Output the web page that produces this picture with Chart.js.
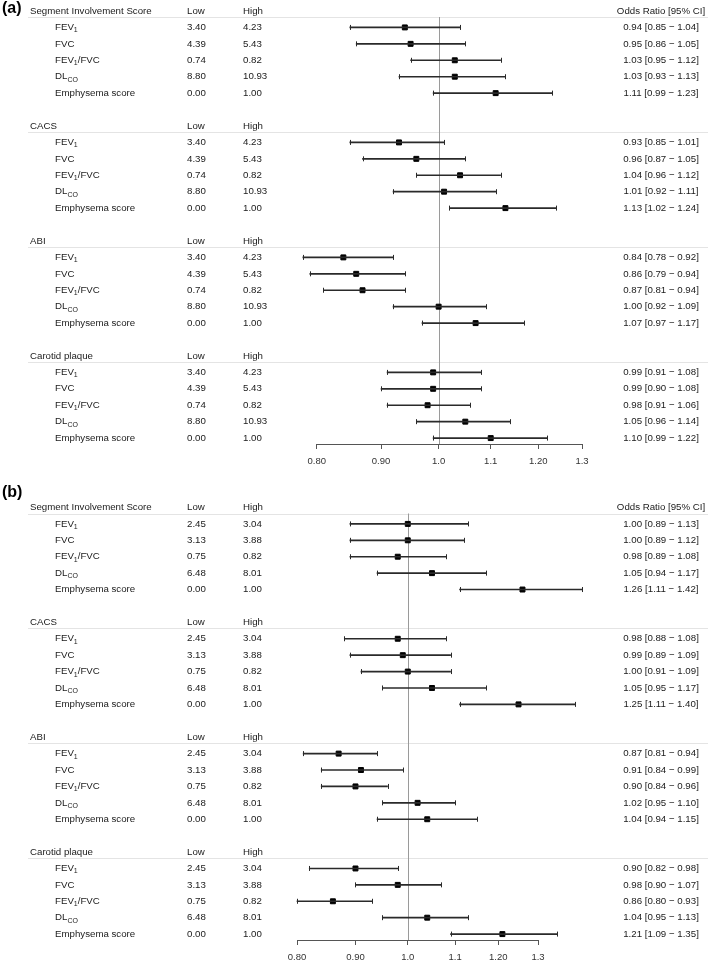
<!DOCTYPE html>
<html><head><meta charset="utf-8">
<script src="https://cdn.jsdelivr.net/npm/chart.js@4/dist/chart.umd.min.js"></script>
<style>
html,body{margin:0;padding:0;background:#fff;overflow:hidden;width:708px;height:963px;position:relative;}
canvas{position:absolute;left:0;}
#ca{top:0}
#cb{top:479px}
</style></head><body>
<canvas id="ca" width="708" height="479"></canvas>
<canvas id="cb" width="708" height="495"></canvas>
<script>
const groups = ['Segment Involvement Score', 'CACS', 'ABI', 'Carotid plaque'];
const items = ['FEV_1', 'FVC', 'FEV_1/FVC', 'DL_CO', 'Emphysema score'];
const lowA = ['3.40', '4.39', '0.74', '8.80', '0.00'];
const highA = ['4.23', '5.43', '0.82', '10.93', '1.00'];
const lowB = ['2.45', '3.13', '0.75', '6.48', '0.00'];
const highB = ['3.04', '3.88', '0.82', '8.01', '1.00'];

const orA = [0.94, 0.95, 1.03, 1.03, 1.11, 0.93, 0.96, 1.04, 1.01, 1.13, 0.84, 0.86, 0.87, 1.00, 1.07, 0.99, 0.99, 0.98, 1.05, 1.10];
const loA = [0.85, 0.86, 0.95, 0.93, 0.99, 0.85, 0.87, 0.96, 0.92, 1.02, 0.78, 0.79, 0.81, 0.92, 0.97, 0.91, 0.90, 0.91, 0.96, 0.99];
const hiA = [1.04, 1.05, 1.12, 1.13, 1.23, 1.01, 1.05, 1.12, 1.11, 1.24, 0.92, 0.94, 0.94, 1.09, 1.17, 1.08, 1.08, 1.06, 1.14, 1.22];

const orB = [1.00, 1.00, 0.98, 1.05, 1.26, 0.98, 0.99, 1.00, 1.05, 1.25, 0.87, 0.91, 0.90, 1.02, 1.04, 0.90, 0.98, 0.86, 1.04, 1.21];
const loB = [0.89, 0.89, 0.89, 0.94, 1.11, 0.88, 0.89, 0.91, 0.95, 1.11, 0.81, 0.84, 0.84, 0.95, 0.94, 0.82, 0.90, 0.80, 0.95, 1.09];
const hiB = [1.13, 1.12, 1.08, 1.17, 1.42, 1.08, 1.09, 1.09, 1.17, 1.40, 0.94, 0.99, 0.96, 1.10, 1.15, 0.98, 1.07, 0.93, 1.13, 1.35];

const tickVals = [0.8, 0.9, 1.0, 1.1, 1.2, 1.3];
const tickLabels = ['0.80', '0.90', '1.0', '1.1', '1.20', '1.3'];

const FONT = '"Liberation Sans", Arial, Helvetica, sans-serif';
const TXT = '#1a1a1a';

function rowOf(i) { const g = Math.floor(i / 5), k = i % 5; return 7 * g + k + 1; }

function drawSubLabel(ctx, label, x, y) {
  const parts = label.split(/(_[A-Za-z0-9]+)/);
  let cx = x;
  for (const p of parts) {
    if (!p) continue;
    if (p[0] === '_') {
      ctx.font = '7px ' + FONT;
      ctx.fillText(p.slice(1), cx, y + 3);
      cx += ctx.measureText(p.slice(1)).width;
    } else {
      ctx.font = '9.7px ' + FONT;
      ctx.fillText(p, cx, y);
      cx += ctx.measureText(p).width;
    }
  }
}

function fmt(v) { return v.toFixed(2); }

function makePanel(id, panelLabel, labelY, low, high, or, lo, hi, pad) {
  const rows = or.map((_, i) => rowOf(i));
  const panelPlugin = {
    id: 'panel' + id,
    beforeDatasetsDraw(chart) {
      const { ctx, scales: { x, y }, chartArea } = chart;
      ctx.save();
      ctx.strokeStyle = '#e4e4e4';
      ctx.lineWidth = 1;
      for (let g = 0; g < groups.length; g++) {
        const yy = Math.round(y.getPixelForValue(7 * g) + 6) + 0.5;
        ctx.beginPath(); ctx.moveTo(28, yy); ctx.lineTo(708, yy); ctx.stroke();
      }
      const x1 = Math.round(x.getPixelForValue(1)) + 0.5;
      ctx.strokeStyle = '#9a9a9a';
      ctx.beginPath();
      ctx.moveTo(x1, y.getPixelForValue(0) + 6);
      ctx.lineTo(x1, chartArea.bottom);
      ctx.stroke();
      ctx.restore();
    },
    afterDatasetsDraw(chart) {
      const { ctx, scales: { x, y } } = chart;
      ctx.save();
      ctx.strokeStyle = '#2a2a2a';
      ctx.lineWidth = 1;
      for (let i = 0; i < or.length; i++) {
        const yy = y.getPixelForValue(rows[i]);
        for (const v of [lo[i], hi[i]]) {
          const xx = Math.round(x.getPixelForValue(v)) + 0.5;
          ctx.beginPath(); ctx.moveTo(xx, yy - 2.5); ctx.lineTo(xx, yy + 2.5); ctx.stroke();
        }
      }
      ctx.restore();
    },
    afterDraw(chart) {
      const { ctx, scales: { y } } = chart;
      ctx.save();
      ctx.fillStyle = '#000';
      ctx.textBaseline = 'middle';
      ctx.textAlign = 'left';
      ctx.font = 'bold 16px ' + FONT;
      ctx.fillText(panelLabel, 2, labelY);
      ctx.fillStyle = TXT;
      for (let g = 0; g < groups.length; g++) {
        const yh = y.getPixelForValue(7 * g);
        ctx.font = '9.7px ' + FONT;
        ctx.textAlign = 'left';
        ctx.fillText(groups[g], 30, yh);
        ctx.fillText('Low', 187, yh);
        ctx.fillText('High', 243, yh);
        if (g === 0) {
          ctx.textAlign = 'center';
          ctx.fillText('Odds Ratio [95% CI]', 661, yh);
        }
        for (let k = 0; k < items.length; k++) {
          const i = g * 5 + k;
          const yr = y.getPixelForValue(rows[i]);
          ctx.textAlign = 'left';
          drawSubLabel(ctx, items[k], 55, yr);
          ctx.font = '9.7px ' + FONT;
          ctx.fillText(low[k], 187, yr);
          ctx.fillText(high[k], 243, yr);
          ctx.textAlign = 'center';
          ctx.fillText(fmt(or[i]) + ' [' + fmt(lo[i]) + ' \u2212 ' + fmt(hi[i]) + ']', 661, yr);
        }
      }
      ctx.restore();
    }
  };

  return new Chart(document.getElementById(id), {
    type: 'bar',
    data: {
      datasets: [
        {
          type: 'bar', indexAxis: 'y',
          data: rows.map((r, i) => ({ x: [lo[i], hi[i]], y: r })),
          backgroundColor: '#2a2a2a', borderWidth: 0, barThickness: 1, clip: false
        },
        {
          type: 'scatter',
          data: rows.map((r, i) => ({ x: or[i], y: r })),
          pointStyle: 'rect', pointRadius: 3.5, backgroundColor: '#000', borderColor: '#000',
          borderWidth: 1, clip: false
        }
      ]
    },
    options: {
      responsive: false, animation: false, indexAxis: 'y',
      events: [],
      layout: { padding: pad },
      plugins: { legend: { display: false }, tooltip: { enabled: false } },
      scales: {
        x: {
          type: 'logarithmic', position: 'bottom', min: 0.8, max: 1.3,
          afterBuildTicks: s => { s.ticks = tickVals.map(v => ({ value: v })); },
          ticks: {
            autoSkip: false, maxRotation: 0, padding: 7, color: '#333',
            font: { family: FONT, size: 9.5 },
            callback: (v, i) => tickLabels[i]
          },
          grid: { drawOnChartArea: false, tickLength: 5, color: '#555' },
          border: { color: '#555' }
        },
        y: { type: 'linear', min: 0, max: 26.36, reverse: true, display: false, offset: false }
      }
    },
    plugins: [panelPlugin]
  });
}

makePanel('ca', '(a)', 9, lowA, highA, orA, loA, hiA, { left: 316.7, right: 126, top: 11, bottom: 4.6 });
makePanel('cb', '(b)', 14, lowB, highB, orB, loB, hiB, { left: 297, right: 170, top: 28.5, bottom: 3.6 });
</script>
</body></html>
